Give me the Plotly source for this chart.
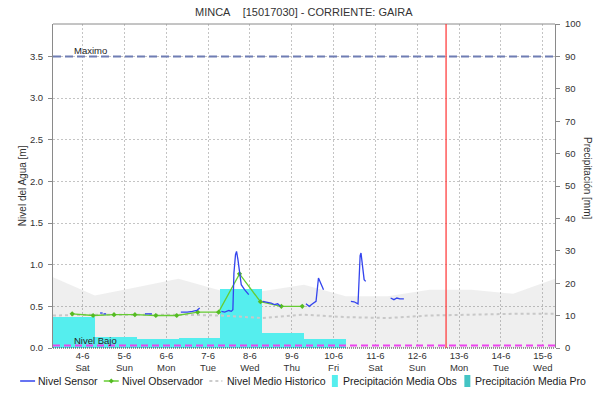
import plotly.graph_objects as go

# ---------------- data ----------------
# Daily observed precipitation [mm], 07:00 -> 07:00 windows (bar centres at 19:00)
precip_dates = ["2016-06-03 19:00", "2016-06-04 19:00", "2016-06-05 19:00",
                "2016-06-06 19:00", "2016-06-07 19:00", "2016-06-08 19:00",
                "2016-06-09 19:00"]
precip_obs = [9.7, 3.4, 2.9, 3.2, 18.2, 4.5, 2.7]

# Historical envelope and historical mean level [m]
hist_dates = ["2016-06-03 07:00", "2016-06-04 07:00", "2016-06-05 07:00",
              "2016-06-06 07:00", "2016-06-07 07:00", "2016-06-08 07:00",
              "2016-06-09 07:00", "2016-06-10 07:00", "2016-06-11 07:00",
              "2016-06-12 07:00", "2016-06-13 07:00", "2016-06-14 07:00",
              "2016-06-15 07:00"]
hist_band = [0.85, 0.63, 0.73, 0.83, 0.69, 0.68, 0.76, 0.62, 0.62, 0.70, 0.70, 0.65, 0.83]
hist_mean = [0.39, 0.40, 0.40, 0.40, 0.39, 0.36, 0.40, 0.37, 0.36, 0.39, 0.40, 0.41, 0.41]

# Observer readings [m] (06:00 and 18:00)
obs_dates = ["2016-06-03 18:00", "2016-06-04 06:00", "2016-06-04 18:00",
             "2016-06-05 06:00", "2016-06-05 18:00", "2016-06-06 06:00",
             "2016-06-06 18:00", "2016-06-07 06:00", "2016-06-07 18:00",
             "2016-06-08 06:00", "2016-06-08 18:00", "2016-06-09 06:00"]
obs_level = [0.41, 0.39, 0.40, 0.40, 0.39, 0.39, 0.43, 0.43, 0.89, 0.555, 0.50, 0.50]

# Sensor level [m]; None marks transmission gaps
sensor_dates = [
    "2016-06-04 10:00", "2016-06-04 11:30", None,
    "2016-06-04 12:00", "2016-06-04 13:30", None,
    "2016-06-05 11:45", "2016-06-05 13:45", "2016-06-05 15:45", None,
    "2016-06-06 08:20", "2016-06-06 12:00", "2016-06-06 15:00", "2016-06-06 17:30",
    "2016-06-06 19:10", None,
    "2016-06-07 07:36", "2016-06-07 09:30", "2016-06-07 11:54", "2016-06-07 13:18",
    "2016-06-07 14:12", "2016-06-07 14:48", "2016-06-07 15:42", "2016-06-07 16:18",
    "2016-06-07 17:06", "2016-06-07 18:00", "2016-06-07 19:00", "2016-06-07 20:54",
    "2016-06-07 23:18", None,
    "2016-06-08 07:18", "2016-06-08 09:18", "2016-06-08 12:06", "2016-06-08 14:00",
    "2016-06-08 15:54", "2016-06-08 17:30", None,
    "2016-06-09 08:06", "2016-06-09 10:00", "2016-06-09 11:54", "2016-06-09 13:54",
    "2016-06-09 15:18", "2016-06-09 16:42", "2016-06-09 18:12", None,
    "2016-06-10 09:54", "2016-06-10 11:42", "2016-06-10 14:00", "2016-06-10 14:36",
    "2016-06-10 15:12", "2016-06-10 15:42", "2016-06-10 16:30", "2016-06-10 17:30",
    "2016-06-10 18:24", None,
    "2016-06-11 08:42", "2016-06-11 10:36", "2016-06-11 12:18", "2016-06-11 14:00",
    "2016-06-11 16:18",
]
sensor_level = [
    0.42, 0.42, None,
    0.41, 0.41, None,
    0.41, 0.41, 0.41, None,
    0.43, 0.43, 0.44, 0.45,
    0.48, None,
    0.44, 0.43, 0.45, 0.44,
    0.46, 0.90, 1.12, 1.16,
    1.06, 0.90, 0.76, 0.70,
    0.64, None,
    0.56, 0.55, 0.54, 0.52,
    0.53, 0.50, None,
    0.53, 0.50, 0.53, 0.56,
    0.84, 0.78, 0.70, None,
    0.56, 0.555, 0.53, 0.80,
    1.11, 1.14, 1.02, 0.82,
    0.80, None,
    0.60, 0.58, 0.60, 0.59,
    0.59,
]

# Axis ticks
day_ticks = ["2016-06-%02d" % d for d in range(4, 16)]
day_labels = ["4-6<br>Sat", "5-6<br>Sun", "6-6<br>Mon", "7-6<br>Tue", "8-6<br>Wed",
              "9-6<br>Thu", "10-6<br>Fri", "11-6<br>Sat", "12-6<br>Sun", "13-6<br>Mon",
              "14-6<br>Tue", "15-6<br>Wed"]
level_ticks = [0.0, 0.5, 1.0, 1.5, 2.0, 2.5, 3.0, 3.5]
rain_ticks = list(range(0, 101, 10))

# Reference levels and current time marker
LEVEL_MAX = 3.5
LEVEL_LOW = 0.03
NOW = "2016-06-12 16:30"

X_RANGE = ["2016-06-03 07:00", "2016-06-15 07:00"]
RAIN_MAX = 100
LEVEL_TOP = LEVEL_MAX * RAIN_MAX / 90  # 3.5 m sits level with 90 mm

# ---------------- styling ----------------
SANS = "Liberation Sans, Arial, sans-serif"
TXT = "#333333"
AXIS = "#8a8a8a"
GRID = "#c4c4c4"
C_SENSOR = "#3344ee"
C_OBS = "#66cc33"
C_HIST = "#c8c8c8"
C_RAIN_OBS = "#55eeee"
C_RAIN_PRO = "#44c4c4"

fig = go.Figure()

# historical envelope (translucent so the grid stays visible through it)
fig.add_trace(go.Scatter(
    x=hist_dates, y=hist_band, mode="lines", fill="tozeroy",
    fillcolor="rgba(110,110,110,0.11)", line=dict(width=0),
    hoverinfo="skip", showlegend=False, yaxis="y"))

# precipitation bars on the right axis
fig.add_trace(go.Bar(
    x=precip_dates, y=precip_obs, width=86400000,
    marker=dict(color=C_RAIN_OBS, line=dict(width=0)),
    name="Precipitación Media Obs", yaxis="y2"))

# level series on an overlay axis so they sit above the bars
fig.add_trace(go.Scatter(
    x=hist_dates, y=hist_mean, mode="lines",
    line=dict(color=C_HIST, width=2, dash="dot"),
    name="Nivel Medio Historico", yaxis="y3"))
fig.add_trace(go.Scatter(
    x=obs_dates, y=obs_level, mode="lines+markers",
    line=dict(color=C_OBS, width=1.3),
    marker=dict(size=4, color="#55bb22", symbol="diamond"),
    name="Nivel Observador", yaxis="y3"))
fig.add_trace(go.Scatter(
    x=sensor_dates, y=sensor_level, mode="lines", connectgaps=False,
    line=dict(color=C_SENSOR, width=1.3),
    name="Nivel Sensor", yaxis="y3"))

fig.update_layout(
    width=593, height=403,
    margin=dict(l=53, r=36, t=24, b=55),
    paper_bgcolor="white", plot_bgcolor="white",
    showlegend=False,
    font=dict(family=SANS, size=10, color=TXT),
    xaxis=dict(
        type="date", range=X_RANGE,
        tickmode="array", tickvals=day_ticks, ticktext=day_labels,
        tickfont=dict(family=SANS, size=9.5, color=TXT),
        showgrid=True, gridcolor=GRID, griddash="2px,2px", gridwidth=1,
        showline=False, zeroline=False, ticks=""),
    yaxis=dict(
        range=[0, LEVEL_TOP], tickmode="array", tickvals=level_ticks,
        tickformat=".1f",
        tickfont=dict(family=SANS, size=9.5, color=TXT),
        showgrid=True, gridcolor=GRID, griddash="2px,2px", gridwidth=1,
        showline=True, linecolor=AXIS, linewidth=1,
        ticks="outside", ticklen=4, tickcolor=AXIS,
        ticklabelstandoff=3, zeroline=False),
    yaxis2=dict(
        overlaying="y", side="right", range=[0, RAIN_MAX],
        tickmode="array", tickvals=rain_ticks,
        tickfont=dict(family=SANS, size=9.5, color=TXT),
        showgrid=False, showline=True, linecolor=AXIS, linewidth=1,
        ticks="outside", ticklen=4, tickcolor=AXIS,
        ticklabelstandoff=3, zeroline=False),
    yaxis3=dict(overlaying="y", range=[0, LEVEL_TOP], visible=False),
    bargap=0,
)

shapes = [
    # top frame edge
    dict(type="line", xref="paper", yref="paper", x0=0, x1=1, y0=1, y1=1,
         line=dict(color=AXIS, width=1), layer="above"),
    # dotted base line
    dict(type="line", xref="paper", yref="paper", x0=0, x1=1, y0=0, y1=0,
         line=dict(color="#333333", width=1, dash="1px,1px"), layer="above"),
    # maximum level
    dict(type="line", xref="paper", yref="y", x0=0, x1=1, y0=LEVEL_MAX, y1=LEVEL_MAX,
         line=dict(color="#6f7db3", width=2, dash="8px,4px"), layer="above"),
    # low level
    dict(type="line", xref="paper", yref="y", x0=0, x1=1, y0=LEVEL_LOW, y1=LEVEL_LOW,
         line=dict(color="#ee44ee", width=2, dash="7px,4px"), layer="above"),
    # current time
    dict(type="line", xref="x", yref="paper", x0=NOW, x1=NOW, y0=0, y1=1,
         line=dict(color="#ff3030", width=1.2), layer="above"),
]

annotations = [
    dict(text="MINCA\u00a0\u00a0\u00a0\u00a0[15017030] - CORRIENTE: GAIRA",
         xref="paper", yref="paper", x=0.5, y=1.037, xanchor="center", yanchor="middle",
         showarrow=False, font=dict(family=SANS, size=11, color=TXT)),
    dict(text="Nivel del Agua [m]", xref="paper", yref="paper", x=-0.0615, y=0.5,
         xanchor="center", yanchor="middle", textangle=-90, showarrow=False,
         font=dict(family=SANS, size=10, color=TXT)),
    dict(text="Precipitación [mm]", xref="paper", yref="paper", x=1.0635, y=0.525,
         xanchor="center", yanchor="middle", textangle=90, showarrow=False,
         font=dict(family=SANS, size=10, color=TXT)),
    dict(text="Maximo", xref="paper", yref="y", x=0.037, y=LEVEL_MAX,
         xanchor="left", yanchor="bottom", yshift=-2, showarrow=False,
         font=dict(family=SANS, size=9.5, color="#222222")),
    dict(text="Nivel Bajo", xref="paper", yref="y", x=0.038, y=LEVEL_LOW,
         xanchor="left", yanchor="bottom", yshift=-2, showarrow=False,
         font=dict(family=SANS, size=9.5, color="#222222")),
]

# legend row drawn below the plot area
W_PLOT, H_PLOT, L0, T0 = 504.0, 324.0, 53.0, 24.0


def px_x(px):
    return (px - L0) / W_PLOT


def px_y(py):
    return (T0 + H_PLOT - py) / H_PLOT


LEG_Y = 381
leg_font = dict(family=SANS, size=10.5, color="#222222")
legend_items = [
    ("line", C_SENSOR, None, 20, 35, "Nivel Sensor", 36),
    ("line", C_OBS, None, 104, 119, "Nivel Observador", 120),
    ("line", "#cccccc", "dot", 210, 223, "Nivel Medio Historico", 226),
    ("box", C_RAIN_OBS, None, 333, 339, "Precipitación Media Obs", 342),
    ("box", C_RAIN_PRO, None, 466, 472, "Precipitación Media Pro", 475),
]
for kind, color, dash, a, b, label, tx in legend_items:
    if kind == "line":
        shapes.append(dict(type="line", xref="paper", yref="paper",
                           x0=px_x(a), x1=px_x(b), y0=px_y(LEG_Y), y1=px_y(LEG_Y),
                           line=dict(color=color, width=2 if dash else 1.5,
                                     dash=dash or "solid")))
    else:
        shapes.append(dict(type="rect", xref="paper", yref="paper",
                           x0=px_x(a), x1=px_x(b), y0=px_y(LEG_Y + 6), y1=px_y(LEG_Y - 6),
                           fillcolor=color, line=dict(width=0)))
    annotations.append(dict(text=label, xref="paper", yref="paper",
                            x=px_x(tx), y=px_y(LEG_Y), xanchor="left", yanchor="middle",
                            showarrow=False, font=leg_font))
# observer marker inside its legend swatch
shapes.append(dict(type="path", xref="paper", yref="paper",
                   path="M %f,%f L %f,%f L %f,%f L %f,%f Z" % (
                       px_x(111.5), px_y(LEG_Y - 2.5), px_x(114), px_y(LEG_Y),
                       px_x(111.5), px_y(LEG_Y + 2.5), px_x(109), px_y(LEG_Y)),
                   fillcolor="#55bb22", line=dict(width=0)))

fig.update_layout(shapes=shapes, annotations=annotations)

fig.write_html("out.html")
